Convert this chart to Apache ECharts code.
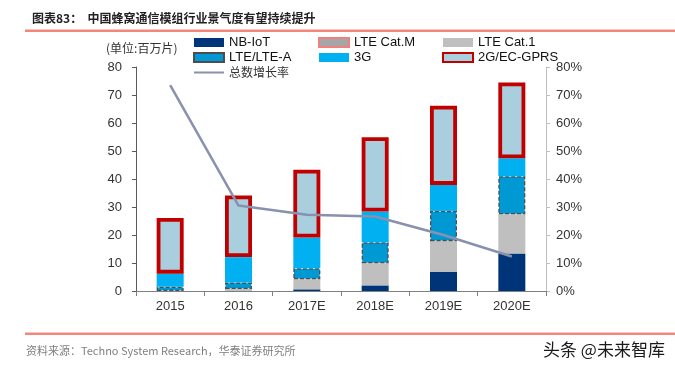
<!DOCTYPE html>
<html>
<head>
<meta charset="utf-8">
<script src="https://cdn.jsdelivr.net/npm/echarts@6/dist/echarts.min.js"></script>
<style>
html,body{margin:0;padding:0;background:#fff;}
#c{width:675px;height:370px;}
</style>
</head>
<body>
<div id="c"></div>
<script>
const categories = ['2015', '2016', '2017E', '2018E', '2019E', '2020E'];
const nbIot   = [0, 0, 0.6, 2.0, 6.9, 13.4];
const lteCatM = [0, 0, 0, 0, 0, 0];
const lteCat1 = [0, 0.7, 3.6, 7.9, 10.9, 14.0];
const lteA    = [1.5, 2.3, 3.9, 7.5, 10.8, 13.6];
const g3      = [4.7, 9.1, 11.0, 11.0, 9.3, 6.4];
const g2      = [19.9, 22.0, 24.2, 26.5, 28.3, 27.1];
const growth  = [73.5, 30.5, 27.2, 26.6, 20.0, 12.3];
const seriesNames = ['NB-IoT', 'LTE Cat.M', 'LTE Cat.1', 'LTE/LTE-A', '3G', '2G/EC-GPRS', '总数增长率'];

const FONT = 'Liberation Sans, Arial, sans-serif';
const CJK = 'Noto Sans CJK SC, sans-serif';

const chart = echarts.init(document.getElementById('c'), null, {renderer: 'canvas'});

const legendText = {fontFamily: FONT, fontSize: 13, color: '#111', lineHeight: 15};
function legendAt(left, items) {
  return {
    orient: 'vertical', left: left, top: 35, itemWidth: 30, itemHeight: 9, itemGap: 0,
    padding: 0, textStyle: legendText, selectedMode: false, data: items
  };
}

const option = {
  animation: false,
  backgroundColor: '#fff',
  title: {
    text: '图表83：  中国蜂窝通信模组行业景气度有望持续提升',
    left: 27, top: 7,
    textStyle: {fontFamily: CJK, fontSize: 12, fontWeight: 'bold', color: '#222'}
  },
  legend: [
    legendAt(193, [
      {name: 'NB-IoT', icon: 'rect'},
      {name: 'LTE/LTE-A', icon: 'rect'},
      {name: '总数增长率', icon: 'path://M0,0L0,0ZM0,9L0,9ZM0,3.4L30,3.4L30,5.6L0,5.6Z',
       itemStyle: {color: '#8891ae', borderWidth: 0},
       textStyle: {fontFamily: CJK, fontSize: 12, color: '#333'}}
    ]),
    legendAt(318, [
      {name: 'LTE Cat.M', icon: 'rect', itemStyle: {color: '#a6a6a6', borderColor: '#f08080', borderWidth: 2}},
      {name: '3G', icon: 'rect'}
    ]),
    legendAt(442, [
      {name: 'LTE Cat.1', icon: 'rect'},
      {name: '2G/EC-GPRS', icon: 'rect'}
    ])
  ],
  grid: {left: 136, right: 129, top: 67, bottom: 79},
  xAxis: {
    type: 'category', data: categories,
    axisLine: {lineStyle: {color: '#808080', width: 1}},
    axisTick: {show: true, length: 5, lineStyle: {color: '#808080'}},
    axisLabel: {fontFamily: FONT, fontSize: 13, color: '#333', margin: 9}
  },
  yAxis: [
    {
      type: 'value', min: 0, max: 80, interval: 10,
      axisLine: {show: true, lineStyle: {color: '#595959'}},
      axisTick: {show: true, length: 4, lineStyle: {color: '#595959'}},
      splitLine: {show: false},
      axisLabel: {fontFamily: FONT, fontSize: 13, color: '#333', margin: 14}
    },
    {
      type: 'value', min: 0, max: 80, interval: 10, position: 'right',
      axisLine: {show: true, lineStyle: {color: '#bfbfbf'}},
      axisTick: {show: true, length: 4, lineStyle: {color: '#bfbfbf'}},
      splitLine: {show: false},
      axisLabel: {fontFamily: FONT, fontSize: 13, color: '#333', margin: 10, formatter: '{value}%'}
    }
  ],
  series: [
    {name: seriesNames[0], type: 'bar', stack: 't', barWidth: 27, data: nbIot,
     itemStyle: {color: '#003479'}},
    {name: seriesNames[1], type: 'bar', stack: 't', barWidth: 27, data: lteCatM,
     itemStyle: {color: '#a6a6a6'}},
    {name: seriesNames[2], type: 'bar', stack: 't', barWidth: 27, data: lteCat1,
     itemStyle: {color: '#bfbfbf'}},
    {name: seriesNames[3], type: 'bar', stack: 't', barWidth: 27, data: lteA,
     itemStyle: {color: '#0099d4', borderColor: '#4d4d4d', borderWidth: 1.3, borderType: [4, 2]}},
    {name: seriesNames[4], type: 'bar', stack: 't', barWidth: 27, data: g3,
     itemStyle: {color: '#00b0f0'}},
    {name: seriesNames[5], type: 'bar', stack: 't', barWidth: 27, data: g2,
     itemStyle: {color: '#a9cfdf', borderColor: '#c00000', borderWidth: 3.8}},
    {name: seriesNames[6], type: 'line', yAxisIndex: 1, data: growth, symbol: 'none',
     lineStyle: {color: '#8891ae', width: 2.5}, itemStyle: {color: '#8891ae'}, z: 5}
  ],
  graphic: [
    {type: 'rect', shape: {x: 25, y: 29.5, width: 650, height: 2.5}, style: {fill: '#f3877b'}, silent: true},
    {type: 'rect', shape: {x: 25, y: 332.5, width: 650, height: 2.5}, style: {fill: '#f3877b'}, silent: true},
    {type: 'text', x: 106, y: 48, style: {text: '(单位:百万片)', font: '12px ' + CJK, fill: '#333', verticalAlign: 'middle'}},
    {type: 'text', x: 26, y: 351, style: {text: '资料来源：Techno System Research，华泰证券研究所', font: '11px ' + CJK, fill: '#7f7f7f', verticalAlign: 'middle'}},
    {type: 'text', x: 543, y: 350, style: {text: '头条 @未来智库', font: '17px ' + CJK, fill: '#1a1a1a', verticalAlign: 'middle'}}
  ]
};
chart.setOption(option);
</script>
</body>
</html>
